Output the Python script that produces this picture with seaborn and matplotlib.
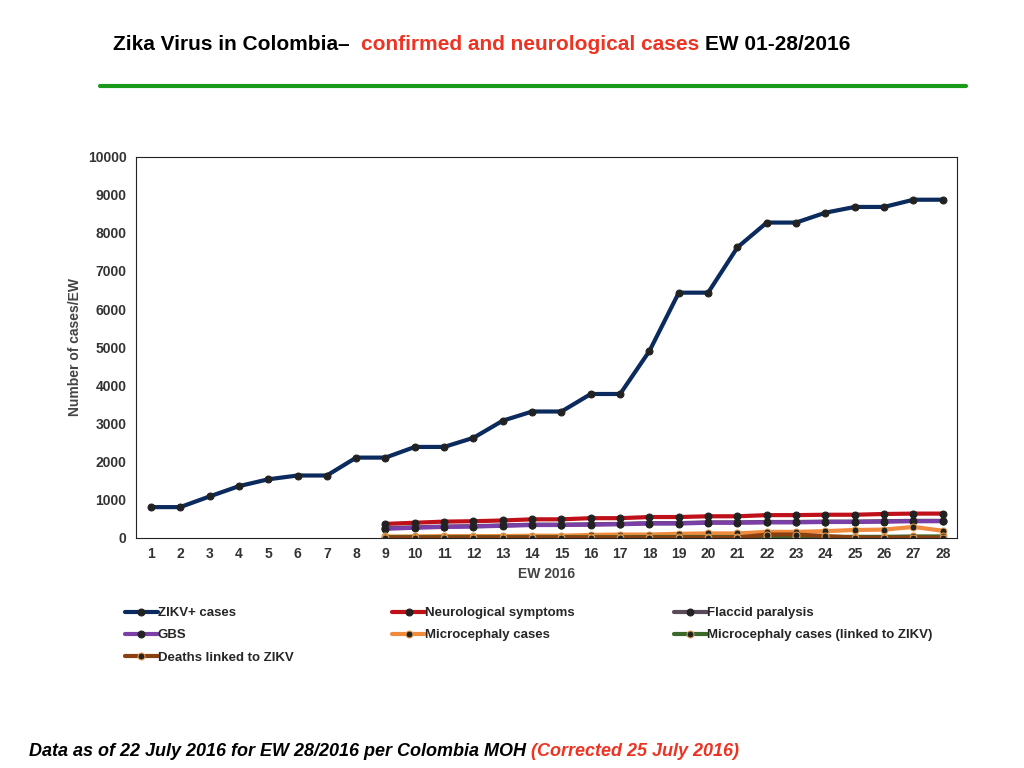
import matplotlib
matplotlib.use("Agg")
import matplotlib.pyplot as plt
import seaborn as sns
import pandas as pd
import numpy as np

weeks = list(range(1, 29))
zikv = [800, 800, 1080, 1350, 1530, 1630, 1630, 2100, 2100, 2380, 2380, 2620, 3070, 3310, 3310,
        3770, 3770, 4900, 6430, 6430, 7620, 8270, 8270, 8530, 8680, 8680, 8870, 8870]
nw = list(range(9, 29))
neuro = [360, 390, 420, 430, 450, 480, 480, 510, 510, 540, 540, 560, 560, 590, 590, 600, 600, 620, 630, 630]
flaccid = [250, 270, 290, 300, 320, 340, 340, 350, 360, 380, 380, 400, 400, 410, 410, 420, 420, 430, 440, 440]
gbs = [230, 260, 280, 290, 310, 330, 330, 340, 350, 370, 370, 390, 390, 400, 400, 410, 410, 420, 430, 430]
micro = [30, 30, 40, 40, 40, 50, 50, 70, 80, 80, 100, 110, 110, 150, 150, 170, 200, 210, 280, 180]
micro_z = [10, 10, 10, 10, 10, 10, 10, 10, 10, 15, 15, 15, 15, 20, 20, 20, 20, 20, 30, 30]
deaths = [0, 0, 0, 0, 0, 0, 0, 0, 0, 0, 0, 0, 0, 80, 80, 40, 0, 0, 0, 0]

sns.set_style("white")
plt.rcParams['font.family'] = ['Liberation Sans', 'DejaVu Sans']

fig = plt.figure(figsize=(10.24, 7.68), dpi=100)
ax = fig.add_axes([0.133, 0.30, 0.802, 0.496])

series = [
    ("ZIKV+ cases", weeks, zikv, "#0b2a5e"),
    ("Neurological symptoms", nw, neuro, "#c0101a"),
    ("Flaccid paralysis", nw, flaccid, "#5a4a5a"),
    ("GBS", nw, gbs, "#7b3fa8"),
    ("Microcephaly cases", nw, micro, "#f08a3c"),
    ("Microcephaly cases (linked to ZIKV)", nw, micro_z, "#3a6a2a"),
    ("Deaths linked to ZIKV", nw, deaths, "#8a4010"),
]
for name, x, y, c in series:
    df = pd.DataFrame({"EW": x, "cases": y})
    light = c in ("#f08a3c", "#3a6a2a", "#8a4010")
    sns.lineplot(data=df, x="EW", y="cases", ax=ax, color=c, lw=3, label=name,
                 marker="o", markersize=5, markerfacecolor="#222",
                 markeredgecolor="#e8a050" if light else "#222")

ax.set_xlim(0.5, 28.5)
ax.set_ylim(0, 10000)
ax.set_xticks(weeks)
ax.set_yticks(range(0, 10001, 1000))
ax.tick_params(labelsize=10, colors="#333")
for s in ax.spines.values():
    s.set_color("#222")
    s.set_linewidth(0.8)
ax.set_xlabel("EW 2016", fontsize=10, fontweight="bold", color="#444")
ax.set_ylabel("Number of cases/EW", fontsize=10, fontweight="bold", color="#444")
for lab in ax.get_xticklabels() + ax.get_yticklabels():
    lab.set_fontweight("bold")

handles, labels = ax.get_legend_handles_labels()
ax.get_legend().remove()
# legend fills column-wise, reorder so rows read like the reference
order = [0, 3, 6, 1, 4, 2, 5]
fig.legend([handles[i] for i in order], [labels[i] for i in order], loc="upper left",
           bbox_to_anchor=(0.11, 0.225), ncol=3, frameon=False, handlelength=2.5,
           handletextpad=0.0, columnspacing=7.5, labelspacing=0.75,
           prop={"weight": "bold", "size": 9.5})


def run_text(x, y, parts, size):
    fig.canvas.draw()
    r = fig.canvas.get_renderer()
    for s, col in parts:
        t = fig.text(x, y, s, fontsize=size, fontweight="bold", color=col,
                     style="italic" if size < 14 else "normal")
        x += t.get_window_extent(r).width / fig.bbox.width


run_text(0.11, 0.935, [("Zika Virus in Colombia", "black"), ("–  ", "black"),
                       ("confirmed and neurological cases ", "#ee3322"), ("EW 01-28/2016", "black")], 15)
fig.add_artist(plt.Line2D([0.098, 0.943], [0.888, 0.888], color="#1a9a1a", lw=3))
run_text(0.028, 0.015, [("Data as of 22 July 2016 for EW 28/2016 per Colombia MOH ", "black"),
                        ("(Corrected 25 July 2016)", "#ee3322")], 13)

fig.savefig("out.png", dpi=100)
